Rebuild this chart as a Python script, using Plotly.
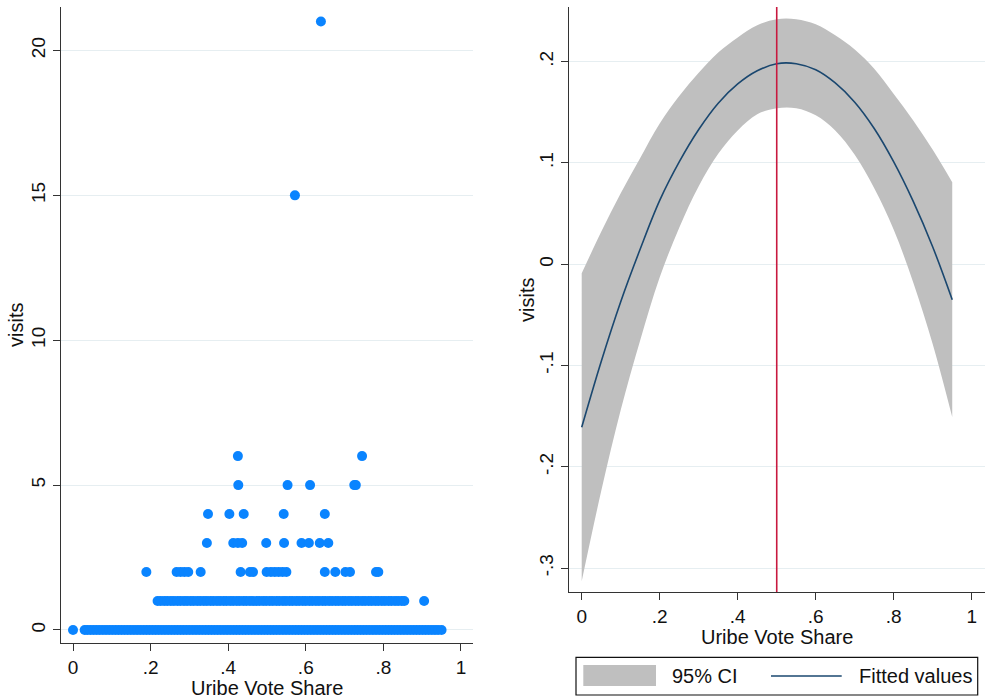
import plotly.graph_objects as go

# ---------------- data: left panel (visits vs Uribe vote share) ----------------
share_visits0 = [0.000, 0.030, 0.037, 0.045, 0.053, 0.061, 0.069, 0.077, 0.085, 0.093, 0.101,
                 0.109, 0.117, 0.125, 0.133, 0.141, 0.149, 0.157, 0.165, 0.173, 0.181, 0.189,
                 0.197, 0.205, 0.213, 0.221, 0.229, 0.237, 0.245, 0.253, 0.261, 0.269, 0.277,
                 0.285, 0.293, 0.301, 0.309, 0.317, 0.325, 0.333, 0.341, 0.349, 0.357, 0.365,
                 0.373, 0.381, 0.389, 0.397, 0.405, 0.413, 0.421, 0.429, 0.437, 0.445, 0.453,
                 0.461, 0.469, 0.477, 0.485, 0.493, 0.501, 0.509, 0.517, 0.525, 0.533, 0.541,
                 0.549, 0.557, 0.565, 0.573, 0.581, 0.589, 0.597, 0.605, 0.613, 0.621, 0.629,
                 0.637, 0.645, 0.653, 0.661, 0.669, 0.677, 0.685, 0.693, 0.701, 0.709, 0.717,
                 0.725, 0.733, 0.741, 0.749, 0.757, 0.765, 0.773, 0.781, 0.789, 0.797, 0.805,
                 0.813, 0.821, 0.829, 0.837, 0.845, 0.853, 0.861, 0.869, 0.877, 0.885, 0.893,
                 0.901, 0.909, 0.917, 0.925, 0.933, 0.941, 0.950]
share_visits1 = [0.218, 0.226, 0.235, 0.243, 0.252, 0.260, 0.269, 0.277, 0.286, 0.294, 0.303,
                 0.311, 0.320, 0.328, 0.337, 0.345, 0.354, 0.362, 0.371, 0.379, 0.388, 0.396,
                 0.405, 0.413, 0.422, 0.430, 0.439, 0.447, 0.456, 0.464, 0.473, 0.481, 0.490,
                 0.498, 0.507, 0.515, 0.524, 0.532, 0.541, 0.549, 0.558, 0.566, 0.575, 0.583,
                 0.592, 0.600, 0.609, 0.617, 0.626, 0.634, 0.643, 0.651, 0.660, 0.668, 0.677,
                 0.685, 0.694, 0.702, 0.711, 0.719, 0.728, 0.736, 0.745, 0.753, 0.762, 0.770,
                 0.779, 0.787, 0.796, 0.804, 0.813, 0.821, 0.830, 0.838, 0.847, 0.854, 0.905]
share_visits2 = [0.189, 0.267, 0.277, 0.287, 0.297, 0.329, 0.432, 0.456, 0.464, 0.499, 0.510,
                 0.520, 0.530, 0.540, 0.550, 0.649, 0.676, 0.702, 0.714, 0.781, 0.787]
share_visits3 = [0.345, 0.413, 0.425, 0.436, 0.498, 0.544, 0.589, 0.608, 0.636, 0.658]
share_visits4 = [0.348, 0.403, 0.440, 0.543, 0.649]
share_visits5 = [0.426, 0.553, 0.611, 0.725, 0.729]
share_visits6 = [0.425, 0.745]
share_visits15 = [0.572]
share_visits21 = [0.639]

visit_levels = [0, 1, 2, 3, 4, 5, 6, 15, 21]
share_by_level = [share_visits0, share_visits1, share_visits2, share_visits3, share_visits4,
                  share_visits5, share_visits6, share_visits15, share_visits21]

# ---------------- data: right panel (quadratic fit with 95% CI) ----------------
fit_x = [0.00, 0.05, 0.10, 0.15, 0.20, 0.25, 0.30, 0.35, 0.40, 0.45,
         0.50, 0.55, 0.60, 0.65, 0.70, 0.75, 0.80, 0.85, 0.90, 0.95]
fit_y = [-0.161, -0.096, -0.037, 0.015, 0.063, 0.101, 0.133, 0.159, 0.178, 0.191,
         0.198, 0.198, 0.192, 0.179, 0.160, 0.134, 0.101, 0.062, 0.017, -0.035]
ci_upper = [-0.009, 0.032, 0.070, 0.105, 0.139, 0.166, 0.189, 0.209, 0.224, 0.236,
            0.242, 0.242, 0.237, 0.226, 0.212, 0.193, 0.168, 0.142, 0.113, 0.081]
ci_lower = [-0.313, -0.224, -0.144, -0.075, -0.013, 0.036, 0.077, 0.109, 0.132, 0.148,
            0.154, 0.154, 0.147, 0.132, 0.108, 0.075, 0.034, -0.018, -0.079, -0.151]
vline_x = 0.5

x_tickvals = [0, 0.2, 0.4, 0.6, 0.8, 1]
x_ticktext = ["0", ".2", ".4", ".6", ".8", "1"]
left_y_tickvals = [0, 5, 10, 15, 20]
left_y_ticktext = ["0", "5", "10", "15", "20"]
right_y_tickvals = [-0.3, -0.2, -0.1, 0, 0.1, 0.2]
right_y_ticktext = ["-.3", "-.2", "-.1", "0", ".1", ".2"]

# ---------------- styling ----------------
FONT = "Liberation Sans, Arial, Helvetica, sans-serif"
BLUE = "#0a84ff"
NAVY = "#1a476f"
GRAY = "#bfbfbf"
RED = "#c8193f"
GRID = "#e6eef1"
AXIS = "#333333"

W, H = 985, 698


def px_x(p):
    return p / W


def px_y(p):
    return 1 - p / H


fig = go.Figure()

# left scatter
sx, sy = [], []
for lvl, xs in zip(visit_levels, share_by_level):
    sx.extend(xs)
    sy.extend([lvl] * len(xs))
fig.add_trace(go.Scatter(x=sx, y=sy, mode="markers", xaxis="x", yaxis="y",
                         marker=dict(color=BLUE, size=10, line=dict(width=0)),
                         showlegend=False, hoverinfo="x+y"))

# right CI band
fig.add_trace(go.Scatter(x=fit_x, y=ci_lower, mode="lines", xaxis="x2", yaxis="y2",
                         line=dict(width=0, shape="spline", color=GRAY),
                         showlegend=False, hoverinfo="skip"))
fig.add_trace(go.Scatter(x=fit_x, y=ci_upper, mode="lines", xaxis="x2", yaxis="y2",
                         line=dict(width=0, shape="spline", color=GRAY),
                         fill="tonexty", fillcolor=GRAY, name="95% CI",
                         showlegend=False, hoverinfo="skip"))
# fitted line
fig.add_trace(go.Scatter(x=fit_x, y=fit_y, mode="lines", xaxis="x2", yaxis="y2",
                         line=dict(width=1.6, shape="spline", color=NAVY),
                         name="Fitted values", showlegend=False))

axis_common = dict(showline=True, linecolor=AXIS, linewidth=1.3, ticks="outside",
                   ticklen=7, tickwidth=1.2, tickcolor=AXIS, zeroline=False,
                   tickfont=dict(family=FONT, size=19, color="#111111"),
                   automargin=False)

fig.update_layout(
    width=W, height=H,
    margin=dict(l=0, r=0, t=0, b=0),
    paper_bgcolor="white", plot_bgcolor="white",
    font=dict(family=FONT, size=19, color="#111111"),
    xaxis=dict(domain=[px_x(61), px_x(473)], range=[-0.031, 1.031],
               tickvals=x_tickvals, ticktext=x_ticktext, showgrid=False,
               anchor="y", **axis_common),
    yaxis=dict(domain=[px_y(643), px_y(7)], range=[-0.45, 21.5],
               tickvals=left_y_tickvals, ticktext=left_y_ticktext, tickangle=-90,
               showgrid=True, gridcolor=GRID, gridwidth=1, anchor="x", **axis_common),
    xaxis2=dict(domain=[px_x(569), 1.0], range=[-0.0326, 1.034],
                tickvals=x_tickvals, ticktext=x_ticktext, showgrid=False,
                anchor="y2", **axis_common),
    yaxis2=dict(domain=[px_y(592), px_y(7)], range=[-0.3237, 0.254],
                tickvals=right_y_tickvals, ticktext=right_y_ticktext, tickangle=-90,
                showgrid=True, gridcolor=GRID, gridwidth=1, anchor="x2", **axis_common),
)

# vertical reference line at 0.5
fig.add_shape(type="line", xref="x2", yref="y2 domain", x0=vline_x, x1=vline_x, y0=0, y1=1,
              line=dict(color=RED, width=1.6), layer="above")

title_font = dict(family=FONT, size=20, color="#111111")
annots = [
    dict(text="Uribe Vote Share", x=px_x(267), y=px_y(688)),
    dict(text="Uribe Vote Share", x=px_x(777), y=px_y(637)),
    dict(text="visits", x=px_x(16), y=px_y(325), textangle=-90),
    dict(text="visits", x=px_x(527), y=px_y(300), textangle=-90),
]
for a in annots:
    fig.add_annotation(xref="paper", yref="paper", showarrow=False, xanchor="center",
                       yanchor="middle", font=title_font, **a)

# legend (drawn as a boxed key below the right panel)
fig.add_shape(type="rect", xref="paper", yref="paper", x0=px_x(576), x1=px_x(977.7),
              y0=px_y(695), y1=px_y(657.3), line=dict(color="#111111", width=1.2),
              fillcolor="white")
fig.add_shape(type="rect", xref="paper", yref="paper", x0=px_x(583.3), x1=px_x(656),
              y0=px_y(686), y1=px_y(665), line=dict(width=0), fillcolor=GRAY)
fig.add_shape(type="line", xref="paper", yref="paper", x0=px_x(771), x1=px_x(841.7),
              y0=px_y(676), y1=px_y(676), line=dict(color=NAVY, width=1.6))
fig.add_annotation(xref="paper", yref="paper", x=px_x(670), y=px_y(676), text="95% CI",
                   showarrow=False, xanchor="left", yanchor="middle", font=title_font)
fig.add_annotation(xref="paper", yref="paper", x=px_x(856.7), y=px_y(676), text="Fitted values",
                   showarrow=False, xanchor="left", yanchor="middle", font=title_font)

fig.write_html(
    "out.html",
    config={"displayModeBar": False},
    post_script="document.body.style.margin='0';document.body.style.overflow='hidden';",
)
